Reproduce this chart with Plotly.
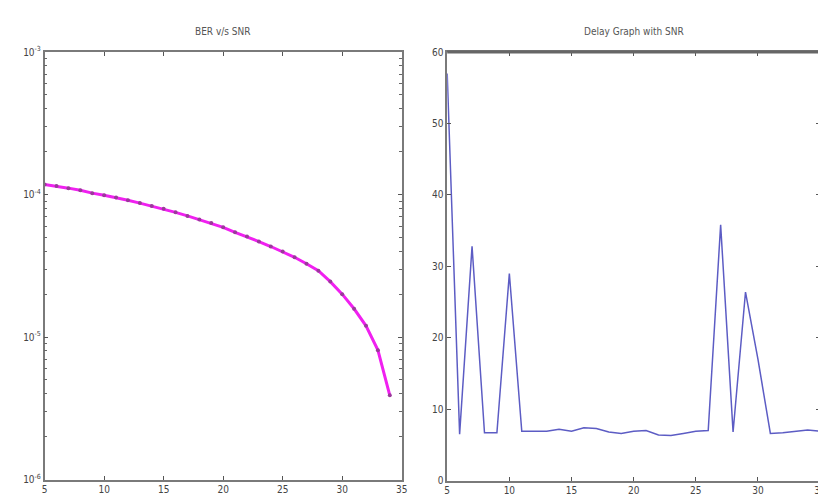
import plotly.graph_objects as go
from plotly.subplots import make_subplots

# BER vs SNR (left)
snr_ber = list(range(5, 35))
ber = [1.175e-4, 1.148e-4, 1.109e-4, 1.072e-4, 1.023e-4, 9.89e-5, 9.55e-5, 9.12e-5,
       8.71e-5, 8.32e-5, 7.94e-5, 7.50e-5, 7.08e-5, 6.68e-5, 6.31e-5, 5.89e-5,
       5.43e-5, 5.07e-5, 4.68e-5, 4.32e-5, 3.98e-5, 3.63e-5, 3.27e-5, 2.92e-5,
       2.45e-5, 2.0e-5, 1.58e-5, 1.20e-5, 8.1e-6, 3.9e-6]

# Delay vs SNR (right)
snr_delay = list(range(5, 36))
delay = [57, 6.5, 32.8, 6.7, 6.7, 29, 6.9, 6.9, 6.9, 7.2, 6.9, 7.4, 7.3, 6.8, 6.6,
         6.9, 7.0, 6.4, 6.3, 6.6, 6.9, 7.0, 35.8, 6.8, 26.4, 17, 6.6, 6.7, 6.9, 7.1, 6.9]

ber_ticks = [1e-6, 1e-5, 1e-4, 1e-3]
ber_labels = ['10<sup>-6</sup>', '10<sup>-5</sup>', '10<sup>-4</sup>', '10<sup>-3</sup>']

FONT = "Liberation Sans Narrow, DejaVu Sans Condensed, Arial Narrow, sans-serif"
AXIS = "#7a7a7a"

# minor log ticks 2..9 in every decade
minor_vals = [m * 10.0 ** e for e in (-6, -5, -4) for m in range(2, 10)]

fig = make_subplots(rows=1, cols=2)

fig.add_trace(go.Scatter(
    x=snr_ber, y=ber, mode='lines+markers',
    line=dict(color='#f020f0', width=3),
    marker=dict(size=4, color='#9a3a9a'),
    showlegend=False
), row=1, col=1)

fig.add_trace(go.Scatter(
    x=snr_delay, y=delay, mode='lines',
    line=dict(color='#5c5cc4', width=1.5),
    showlegend=False
), row=1, col=2)

common = dict(
    showline=True, linecolor=AXIS, linewidth=1.5, mirror='allticks',
    ticks='inside', ticklen=4, tickcolor='#555555', showgrid=False, zeroline=False,
    tickfont=dict(size=10, color='#444444', family=FONT),
)

fig.update_xaxes(range=[5, 35], tickvals=[5, 10, 15, 20, 25, 30, 35],
                 domain=[34 / 826, 395 / 826], **common, row=1, col=1)
fig.update_yaxes(type='log', range=[-6, -3], tickmode='array',
                 tickvals=ber_ticks, ticktext=ber_labels,
                 minor=dict(tickmode='array', tickvals=minor_vals, ticks='inside',
                            ticklen=3, tickcolor='#666666', showgrid=False),
                 domain=[1 - 477 / 501, 1 - 38 / 501], **common, row=1, col=1)

fig.update_xaxes(range=[5, 35], tickvals=[5, 10, 15, 20, 25, 30, 35],
                 domain=[441 / 826, 818 / 826], **common, row=1, col=2)
fig.update_yaxes(range=[0, 60], dtick=10,
                 domain=[1 - 478 / 501, 1 - 38 / 501], **common, row=1, col=2)

fig.add_shape(type='line', xref='x2 domain', yref='y2 domain',
              x0=0, x1=1, y0=1, y1=1, line=dict(color='#666666', width=3))

fig.add_annotation(text='BER v/s SNR', xref='x domain', yref='y domain',
                   x=0.5, y=1.03, xanchor='center', yanchor='bottom', showarrow=False,
                   font=dict(size=10, color='#555555', family=FONT))
fig.add_annotation(text='Delay Graph with SNR', xref='x2 domain', yref='y2 domain',
                   x=0.5, y=1.03, xanchor='center', yanchor='bottom', showarrow=False,
                   font=dict(size=10, color='#555555', family=FONT))

fig.update_layout(
    width=826, height=501,
    margin=dict(l=0, r=0, t=0, b=0),
    paper_bgcolor='white', plot_bgcolor='white',
)

fig.write_html("out.html")
